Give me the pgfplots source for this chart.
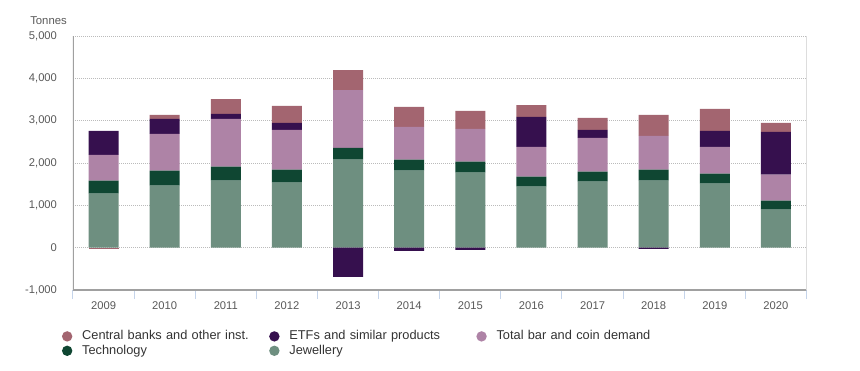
\documentclass[border=0pt]{standalone}
\usepackage{pgfplots}
\usepackage{pgfplotstable}
\pgfplotsset{compat=1.18}
\usepackage{fontspec}
\setmainfont{Liberation Sans}
\definecolor{cbc}{HTML}{A36570}
\definecolor{etfc}{HTML}{36104E}
\definecolor{barc}{HTML}{AE83A6}
\definecolor{techc}{HTML}{0F4632}
\definecolor{jewc}{HTML}{6E8F80}
\definecolor{axgray}{HTML}{A0A0A0}
\definecolor{gridgray}{HTML}{BBBBBB}
\definecolor{tickblue}{HTML}{C5D4EA}
\definecolor{ticktext}{HTML}{595959}
\definecolor{legtext}{HTML}{333333}

\pgfplotstableread{
x jew tech bar etf cb etfn cbn
0 1277 306 611 565 0 0 -40
1 1465 353 870 353 94 0 0
2 1583 329 1129 117 353 0 0
3 1536 306 940 165 400 0 0
4 2077 282 1363 0 471 -690 0
5 1818 259 776 0 470 -78 0
6 1771 259 776 0 423 -55 0
7 1442 235 705 706 282 0 0
8 1560 235 799 188 282 0 0
9 1583 259 799 0 494 -31 0
10 1513 235 634 377 517 0 0
11 901 212 611 1011 212 0 0
}\data

\pgfplotsset{
  common/.style={
    at={(54.75pt,60.75pt)}, anchor=south west,
    scale only axis, width=550.1pt, height=190.5pt,
    xmin=-0.5, xmax=11.5, ymin=-1000, ymax=5000,
    ybar stacked, bar width=22.5pt,
  },
  legcirc/.style={legend image code/.code={\fill[##1, draw=none] (3.75pt,0pt) circle (3.9pt); \path (15pt,0pt);}},
}

\begin{document}
\begin{tikzpicture}
\useasboundingbox (0,0) rectangle (645pt,278.25pt);
\begin{axis}[common,
  axis line style={draw=none},
  xtick={0,...,11},
  xticklabels={2009,2010,2011,2012,2013,2014,2015,2016,2017,2018,2019,2020},
  minor xtick={-0.5,0.5,...,11.5},
  ytick={-1000,0,1000,2000,3000,4000,5000},
  yticklabels={{-1,000},{0},{1,000},{2,000},{3,000},{4,000},{5,000}},
  xtick pos=bottom, ytick pos=left,
  tick align=outside,
  major tick length=0pt, minor tick length=6.75pt,
  minor tick style={draw=tickblue, line width=0.75pt},
  ymajorgrids=true,
  major grid style={draw=gridgray, line width=0.75pt, dash pattern=on 0.75pt off 0.75pt},
  tick label style={font=\fontsize{8.4}{10}\selectfont, text=ticktext},
  xticklabel style={yshift=-5.5pt},
  yticklabel style={xshift=-8.5pt},
  legend columns=3,
  legend cell align=left,
  legend style={draw=none, fill=none, inner sep=0pt,
    at={(rel axis cs:-0.0154,-0.158)}, anchor=north west,
    row sep=1.8pt, column sep=0pt,
    nodes={inner sep=0pt, text width=140.25pt, text height=7pt, text depth=2pt,
      font=\fontsize{9.6}{11}\selectfont, text=legtext}},
]
\addplot[fill=jewc, draw=none, forget plot] table[x=x,y=jew]{\data};
\addplot[fill=techc, draw=none, forget plot] table[x=x,y=tech]{\data};
\addplot[fill=barc, draw=none, forget plot] table[x=x,y=bar]{\data};
\addplot[fill=etfc, draw=none, forget plot] table[x=x,y=etf]{\data};
\addplot[fill=cbc, draw=none, forget plot] table[x=x,y=cb]{\data};
\addlegendimage{legcirc, fill=cbc, draw=none}
\addlegendentry{Central banks and other inst.}
\addlegendimage{legcirc, fill=etfc, draw=none}
\addlegendentry{ETFs and similar products}
\addlegendimage{legcirc, fill=barc, draw=none}
\addlegendentry{Total bar and coin demand}
\addlegendimage{legcirc, fill=techc, draw=none}
\addlegendentry{Technology}
\addlegendimage{legcirc, fill=jewc, draw=none}
\addlegendentry{Jewellery}
\draw[axgray, line width=0.9pt] (rel axis cs:0,1) -- (rel axis cs:0,0) -- (rel axis cs:1,0) -- (rel axis cs:1,1);
\end{axis}
\begin{axis}[common, hide axis]
\addplot[fill=etfc, draw=none] table[x=x,y=etfn]{\data};
\addplot[fill=cbc, draw=none] table[x=x,y=cbn]{\data};
\end{axis}
\node[anchor=west, inner sep=0pt, font=\fontsize{8.5}{10}\selectfont, text=ticktext] at (22.5pt,263pt) {Tonnes};
\end{tikzpicture}
\end{document}
